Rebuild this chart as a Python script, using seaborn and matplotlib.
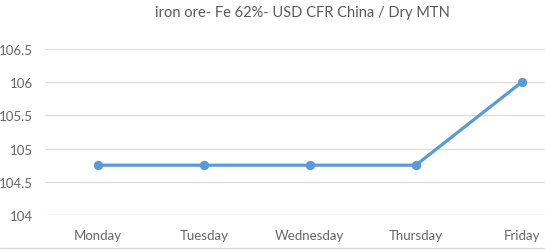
import matplotlib
matplotlib.use("Agg")
import matplotlib.pyplot as plt
import seaborn as sns
import pandas as pd

days = ["Monday", "Tuesday", "Wednesday", "Thursday", "Friday"]
prices = [104.75, 104.75, 104.75, 104.75, 106.0]
yticks = [104, 104.5, 105, 105.5, 106, 106.5]
ytick_labels = ["104", "104.5", "105", "105.5", "106", "106.5"]
title = "iron ore- Fe 62%- USD CFR China / Dry MTN"

sns.set_theme(style="white")
plt.rcParams['font.family'] = ['Lato', 'DejaVu Sans']

df = pd.DataFrame({"day": days, "price": prices})

fig = plt.figure(figsize=(5.45, 2.53), dpi=100)
ax = fig.add_axes([45/545, 1 - 216/253, 500/545, (216-50)/253])

sns.lineplot(data=df, x="day", y="price", ax=ax, color="#5B9BD5", linewidth=2.3,
             marker="o", markersize=6, markeredgecolor="#5B9BD5", sort=False)

ax.set_ylim(104, 106.5)
ax.set_xlim(-0.5, 4.22)
ax.set_yticks(yticks)
ax.set_yticklabels(ytick_labels)
ax.set_xlabel("")
ax.set_ylabel("")
ax.grid(axis="y", color="#DDDDDD", linewidth=1)
ax.set_axisbelow(True)
for s in ax.spines.values():
    s.set_visible(False)
ax.tick_params(axis="both", length=0, labelsize=9.5, colors="#666666")
ax.tick_params(axis="y", pad=9)
ax.tick_params(axis="x", pad=10)

fig.text(302/545, 1 - 13/253, title, ha="center", va="center", fontsize=10.5, color="#595959")
fig.add_artist(plt.Line2D([0, 1], [1 - 249/253, 1 - 249/253], color="#D9D9D9", linewidth=1))

fig.savefig("out.png", dpi=100, facecolor="white")
